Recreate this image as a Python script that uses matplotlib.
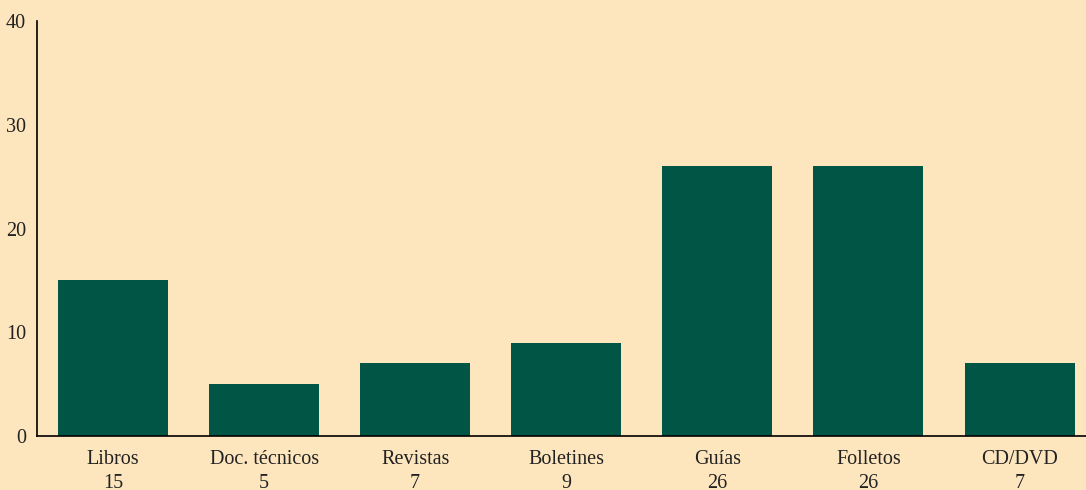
import matplotlib.pyplot as plt

categories = ['Libros', 'Doc. técnicos', 'Revistas', 'Boletines', 'Guías', 'Folletos', 'CD/DVD']
values = [15, 5, 7, 9, 26, 26, 7]
yticks = [0, 10, 20, 30, 40]

bg = '#fde6be'
green = '#005544'

plt.rcParams['font.family'] = ['Liberation Serif', 'DejaVu Serif']

fig = plt.figure(figsize=(10.86, 4.9), dpi=100, facecolor=bg)
ax = fig.add_axes([37 / 1086, 54 / 490, 1 - 37 / 1086, 415 / 490])
ax.set_facecolor(bg)

x = range(len(categories))
ax.bar(x, values, width=0.728, color=green)

ax.set_xlim(-0.503, 6.44)
ax.set_ylim(0, 40)
ax.set_yticks(yticks)
ax.set_xticks(list(x))
ax.set_xticklabels([f'{c}\n{v}' for c, v in zip(categories, values)], linespacing=1.38)
ax.tick_params(axis='both', length=0, labelsize=14.5, colors='#222222')
ax.tick_params(axis='x', pad=10)
ax.tick_params(axis='y', pad=8)

for s in ['top', 'right']:
    ax.spines[s].set_visible(False)
for s in ['left', 'bottom']:
    ax.spines[s].set_linewidth(1.2)
    ax.spines[s].set_color('black')

fig.savefig('out.png', facecolor=bg)
